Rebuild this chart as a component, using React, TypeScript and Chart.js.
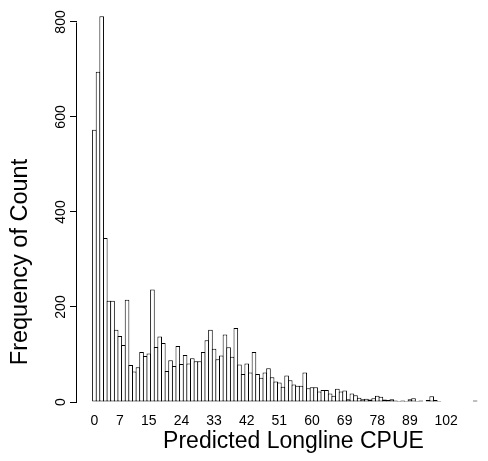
import React, { useEffect, useRef } from "react";
import { Chart, registerables } from "chart.js";

Chart.register(...registerables);

// Rounded CPUE classes present in the data (bar categories)
const cpueClasses: string[] = [
  "0", "1", "2", "3", "4", "5", "6", "7", "8", "9",
  "10", "11", "12", "13", "14", "15", "16", "17", "18", "19",
  "20", "21", "22", "23", "24", "25", "26", "27", "28", "29",
  "30", "31", "32", "33", "34", "35", "36", "37", "38", "39",
  "40", "41", "42", "43", "44", "45", "46", "47", "48", "49",
  "50", "51", "52", "53", "54", "55", "56", "57", "58", "59",
  "60", "61", "62", "63", "64", "65", "66", "67", "68", "69",
  "70", "71", "72", "73", "74", "75", "76", "77", "78",
  "79", "80", "81", "82", "83", "85", "86", "88",
  "89",
  "90", "91", "92", "94", "95", "96", "98", "100", "101",
  "102",
  "103", "104", "105", "106", "108", "109", "111", "113", "116", "120",
];

// Frequency of each class
const frequencies: number[] = [
  573, 695, 812, 345, 213, 213, 152, 139, 120, 215,
  78, 64, 73, 105, 97, 102, 237, 116, 138, 124,
  65, 88, 76, 118, 80, 99, 81, 92, 86, 86,
  105, 130, 152, 112, 90, 98, 142, 115, 95, 156,
  79, 59, 81, 62, 105, 59, 51, 62, 71, 52,
  43, 41, 32, 56, 46, 37, 34, 34, 62, 29,
  31, 31, 22, 25, 25, 18, 13, 28, 22, 24,
  6, 18, 14, 9, 6, 7, 5, 8, 13,
  11, 5, 4, 6, 3, 2, 3, 2,
  6,
  8, 2, 3, 1, 4, 12, 4, 2, 1,
  1,
  1, 1, 1, 1, 1, 1, 1, 3, 1, 1,
];

// Tick labels visible on the x axis
const xTickLabels: string[] = ["0", "7", "15", "24", "33", "42", "51", "60", "69", "78", "89", "102"];
// Tick values on the y axis
const yTickValues: number[] = [0, 200, 400, 600, 800];

const xTitle = "Predicted Longline CPUE";
const yTitle = "Frequency of Count";

const FONT = "'Liberation Sans', Arial, Helvetica, sans-serif";

// R-style y axis line (spans first to last tick only) and y-title offset
const rAxisStyle = {
  id: "rAxisStyle",
  afterLayout(chart: any) {
    const ys = chart.scales.y;
    ys.bottom += 110; // moves the y title centre down like the original
  },
  afterDraw(chart: any) {
    const ys = chart.scales.y;
    const ctx = chart.ctx;
    const x = Math.round(chart.chartArea.left) - 0.5;
    ctx.save();
    ctx.strokeStyle = "#000";
    ctx.lineWidth = 1;
    ctx.beginPath();
    ctx.moveTo(x, Math.round(ys.getPixelForValue(yTickValues[0])) + 0.5);
    ctx.lineTo(x, Math.round(ys.getPixelForValue(yTickValues[yTickValues.length - 1])) + 0.5);
    ctx.stroke();
    ctx.restore();
  },
};

export default function App() {
  const ref = useRef<HTMLCanvasElement>(null);

  useEffect(() => {
    const xTickIdx = xTickLabels.map((l) => cpueClasses.indexOf(l));
    const chart = new Chart(ref.current as HTMLCanvasElement, {
      type: "bar",
      data: {
        datasets: [
          {
            data: frequencies.map((f, i) => ({ x: i, y: f })),
            backgroundColor: "#ffffff",
            borderColor: "#000000",
            borderWidth: 1,
            borderSkipped: false,
            barPercentage: 1.275,
            categoryPercentage: 1,
            clip: false,
          } as any,
        ],
      },
      options: {
        animation: false,
        responsive: true,
        maintainAspectRatio: false,
        layout: { padding: { top: 12, right: 0, left: 0, bottom: 0 } },
        plugins: { legend: { display: false }, tooltip: { enabled: false } },
        scales: {
          x: {
            type: "linear",
            offset: false,
            min: -4.8,
            max: 114.6,
            grid: { display: false, drawTicks: false },
            border: { display: false },
            afterBuildTicks: (s: any) => {
              s.ticks = xTickIdx.map((v) => ({ value: v }));
            },
            afterFit: (s: any) => {
              s.height = 59;
            },
            ticks: {
              autoSkip: false,
              maxRotation: 0,
              minRotation: 0,
              padding: 11,
              color: "#000",
              font: { family: FONT, size: 14 },
              callback: (v: any) => cpueClasses[v as number],
            },
            title: {
              display: true,
              text: xTitle,
              color: "#000",
              font: { family: FONT, size: 23 },
              padding: { top: 0, bottom: 6 },
            },
          },
          y: {
            type: "linear",
            min: 0,
            max: 821,
            afterBuildTicks: (s: any) => {
              s.ticks = yTickValues.map((v) => ({ value: v }));
            },
            afterFit: (s: any) => {
              s.width = 77;
            },
            grid: { drawOnChartArea: false, drawTicks: true, tickLength: 7, color: "#000", lineWidth: 1 },
            border: { display: false },
            ticks: {
              minRotation: 90,
              maxRotation: 90,
              crossAlign: "center",
              padding: -3,
              color: "#000",
              font: { family: FONT, size: 14 },
            },
            title: {
              display: true,
              text: yTitle,
              color: "#000",
              font: { family: FONT, size: 23.5 },
              padding: { top: 6, bottom: 0 },
            },
          },
        },
      } as any,
      plugins: [rAxisStyle],
    });
    return () => chart.destroy();
  }, []);

  return (
    <div style={{ position: "fixed", left: 0, top: 0, width: 488, height: 461, overflow: "hidden", background: "#fff" }}>
      <div style={{ position: "absolute", left: 0, top: 0, width: 510, height: 461 }}>
        <canvas ref={ref} />
      </div>
    </div>
  );
}
